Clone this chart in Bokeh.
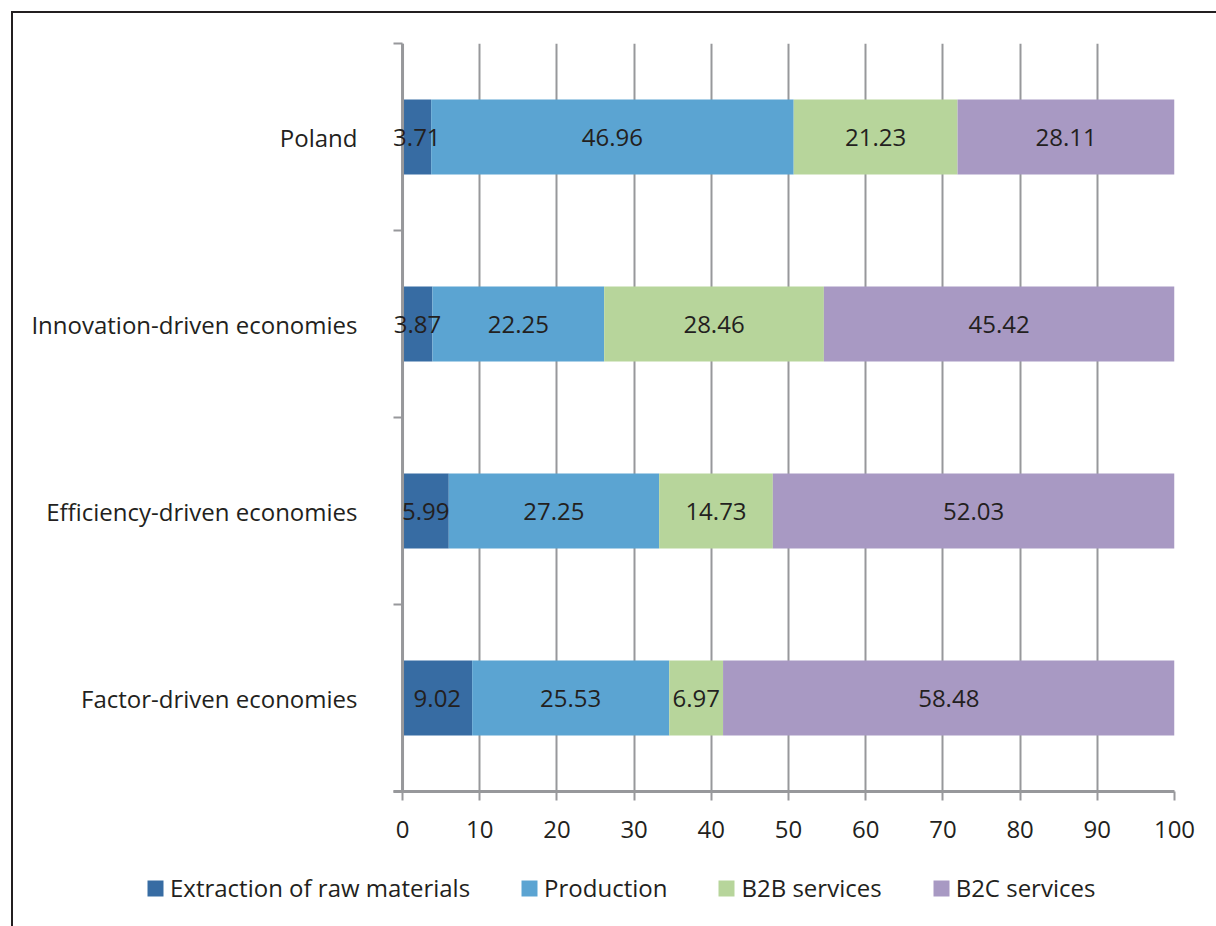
from bokeh.plotting import figure
from bokeh.layouts import column
from bokeh.models import (ColumnDataSource, FixedTicker, Legend, LegendItem, Range1d,
                          LabelSet, Span)
from bokeh.core.properties import value
from bokeh.embed import file_html
from bokeh.resources import INLINE

categories = ["Factor-driven economies", "Efficiency-driven economies",
              "Innovation-driven economies", "Poland"]
series = ["Extraction of raw materials", "Production", "B2B services", "B2C services"]
extraction = [9.02, 5.99, 3.87, 3.71]
production = [25.53, 27.25, 22.25, 46.96]
b2b = [6.97, 14.73, 28.46, 21.23]
b2c = [58.48, 52.03, 45.42, 28.11]
colors = ["#376ca3", "#5ba4d2", "#b7d59b", "#a899c3"]
x_ticks = [0, 10, 20, 30, 40, 50, 60, 70, 80, 90, 100]

FONT = "Open Sans"
TXT = "#231f20"
GRAY = "#97989b"
FS = "24px"

ypos = [i + 0.5 for i in range(len(categories))]
values = [extraction, production, b2b, b2c]

p = figure(width=1203, height=837, output_backend="svg", toolbar_location=None,
           x_range=Range1d(-1.17, 100), y_range=Range1d(0, len(categories)),
           min_border_left=380, min_border_top=30, min_border_right=42,
           min_border_bottom=59, outline_line_color=None)

p.xgrid.ticker = FixedTicker(ticks=x_ticks)
p.xgrid.grid_line_color = GRAY
p.xgrid.grid_line_width = 2
p.ygrid.grid_line_color = None

p.add_layout(Span(location=0, dimension="height", line_color=GRAY, line_width=3))

sources = []
left = [0.0] * len(categories)
for name, vals, col in zip(series, values, colors):
    right = [l + v for l, v in zip(left, vals)]
    src = ColumnDataSource(dict(y=ypos, left=left, right=right,
                                mid=[(l + r) / 2 for l, r in zip(left, right)],
                                lab=["%.2f" % v for v in vals]))
    sources.append(src)
    p.hbar(y="y", left="left", right="right", height=0.4, source=src,
           fill_color=col, line_color=None)
    labels = LabelSet(x="mid", y="y", text="lab", source=src, text_align="center",
                      text_baseline="middle", text_font=value(FONT),
                      text_font_size=FS, text_color=TXT)
    p.add_layout(labels)
    left = right

p.xaxis.ticker = FixedTicker(ticks=x_ticks)
p.xaxis.axis_line_color = GRAY
p.xaxis.axis_line_width = 3
p.xaxis.major_tick_line_color = GRAY
p.xaxis.major_tick_line_width = 2
p.xaxis.major_tick_out = 9
p.xaxis.major_tick_in = 0
p.xaxis.minor_tick_line_color = None
p.xaxis.major_label_standoff = 20
p.xaxis.major_label_text_font = FONT
p.xaxis.major_label_text_font_size = FS
p.xaxis.major_label_text_color = TXT

p.yaxis.ticker = FixedTicker(ticks=ypos, minor_ticks=[0, 1, 2, 3, 4])
p.yaxis.major_label_overrides = {y: c for y, c in zip(ypos, categories)}
p.yaxis.axis_line_color = None
p.yaxis.major_tick_line_color = None
p.yaxis.major_tick_out = 0
p.yaxis.major_tick_in = 0
p.yaxis.minor_tick_line_color = GRAY
p.yaxis.minor_tick_line_width = 2
p.yaxis.minor_tick_out = 0
p.yaxis.minor_tick_in = 9
p.yaxis.major_label_standoff = 36
p.yaxis.major_label_text_font = FONT
p.yaxis.major_label_text_font_size = FS
p.yaxis.major_label_text_color = TXT

# legend strip (its proxy renderers share the data but lie outside its view)
p2 = figure(width=1203, height=76, output_backend="svg", toolbar_location=None,
            x_range=Range1d(0, 1), y_range=Range1d(10, 11), min_border=0,
            outline_line_color=None, x_axis_location=None, y_axis_location=None)
p2.frame_align = False
p2.grid.grid_line_color = None
items = []
for name, col, src in zip(series, colors, sources):
    r = p2.hbar(y="y", left="left", right="right", height=0.4, source=src,
                fill_color=col, line_color=None)
    items.append(LegendItem(label=name, renderers=[r]))
legend = Legend(items=items, orientation="horizontal", location=(132, 22),
                glyph_width=20, glyph_height=20, label_standoff=5, spacing=49,
                label_height=24, padding=0, margin=0, border_line_color=None,
                background_fill_alpha=0, label_text_font=FONT,
                label_text_font_size=FS, label_text_color=TXT)
p2.add_layout(legend, "center")

layout = column(p, p2, spacing=0)
layout.margin = (11, 0, 0, 11)
layout.styles = {"border-top": "2px solid #231f20", "border-left": "2px solid #231f20"}

open("out.html", "w").write(file_html(layout, INLINE))
